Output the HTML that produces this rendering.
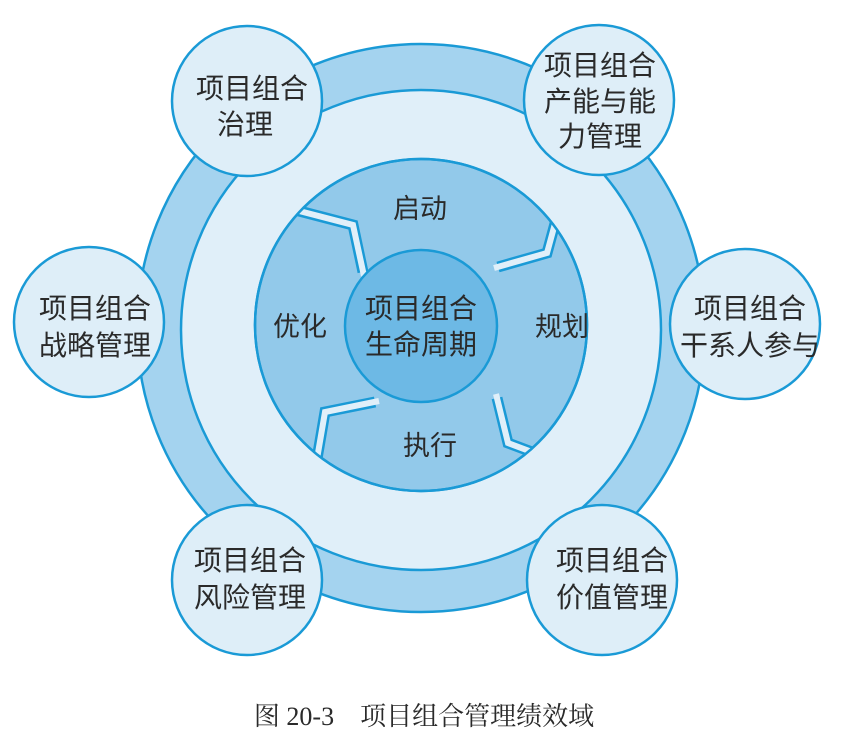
<!DOCTYPE html>
<html><head><meta charset="utf-8"><style>
body{margin:0;background:#fff}
svg text{font-family:"Liberation Sans","Noto Sans CJK SC",sans-serif;fill:#2a2a2a;text-anchor:middle}
</style></head><body>
<svg width="842" height="748" viewBox="0 0 842 748" xmlns="http://www.w3.org/2000/svg">
<defs><clipPath id="c"><circle cx="421" cy="325" r="166"/></clipPath></defs>
<circle cx="421" cy="328" r="284" fill="#a4d3ef" stroke="#1a9ad6" stroke-width="2.5"/>
<circle cx="421" cy="330" r="240" fill="#e0eff9" stroke="#1a9ad6" stroke-width="2.5"/>
<circle cx="421" cy="325" r="166" fill="#92c9ea" stroke="#1a9ad6" stroke-width="2.5"/>
<g fill="none" stroke-linejoin="miter" clip-path="url(#c)">
<g stroke="#1a9ad6" stroke-width="11">
<polyline points="280,206 353,225 363,272"/>
<polyline points="575,150 547,253 498,267"/>
<polyline points="497,398 508,443 580,470"/>
<polyline points="375,402 325,412 310,500"/>
</g>
<g stroke="#e0eff9" stroke-width="6">
<polyline points="280,206 353,225 364,276"/>
<polyline points="575,150 547,253 494,268"/>
<polyline points="496,394 508,443 580,470"/>
<polyline points="379,401 325,412 310,500"/>
</g>
</g>
<circle cx="421" cy="325" r="166" fill="none" stroke="#1a9ad6" stroke-width="2.5"/>
<circle cx="421" cy="326" r="76" fill="#6db9e5" stroke="#1a9ad6" stroke-width="2.5"/>
<g font-size="28">
<text x="421" y="318">项目组合</text>
<text x="421" y="354">生命周期</text>
<text x="420" y="218" font-size="27">启动</text>
<text x="562" y="336" font-size="27">规划</text>
<text x="430" y="455" font-size="27">执行</text>
<text x="300" y="336" font-size="27">优化</text>
</g>
<g fill="#deeef8" stroke="#1a9ad6" stroke-width="2.5">
<circle cx="247" cy="101" r="75"/>
<circle cx="599" cy="100" r="75"/>
<circle cx="89" cy="322" r="75"/>
<circle cx="745" cy="324" r="75"/>
<circle cx="247" cy="580" r="75"/>
<circle cx="602" cy="580" r="75"/>
</g>
<g font-size="28">
<text x="252" y="98">项目组合</text><text x="245" y="134">治理</text>
<text x="600" y="75">项目组合</text><text x="600" y="111">产能与能</text><text x="600" y="146">力管理</text>
<text x="95" y="318">项目组合</text><text x="95" y="355">战略管理</text>
<text x="750" y="318">项目组合</text><text x="750" y="355">干系人参与</text>
<text x="250" y="570">项目组合</text><text x="250" y="607">风险管理</text>
<text x="612" y="570">项目组合</text><text x="612" y="607">价值管理</text>
</g>
<text x="424" y="725" font-size="26" style="font-family:'Liberation Serif','Noto Serif CJK SC',serif">图 20-3　项目组合管理绩效域</text>
</svg>
</body></html>
